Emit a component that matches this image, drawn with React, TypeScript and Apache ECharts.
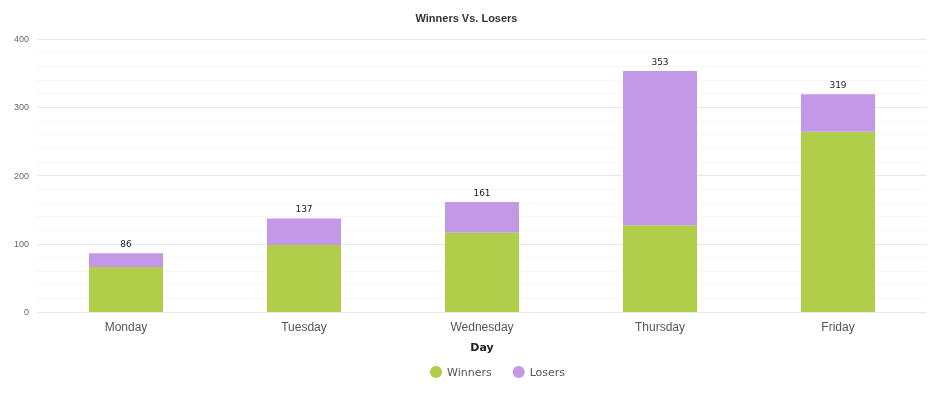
import React, { useEffect, useRef } from "react";
import * as echarts from "echarts";

const days = ["Monday", "Tuesday", "Wednesday", "Thursday", "Friday"];
const winners = [66, 98, 116, 127, 264];
const losers = [20, 39, 45, 226, 55];
const totals = [86, 137, 161, 353, 319];

export default function App() {
  const ref = useRef<HTMLDivElement>(null);
  useEffect(() => {
    if (!ref.current) return;
    const chart = echarts.init(ref.current, undefined, { renderer: "svg" });
    chart.setOption({
      animation: false,
      title: {
        text: "Winners Vs. Losers",
        left: "center",
        top: 7,
        textStyle: { fontSize: 11, fontWeight: "bold", color: "#333", fontFamily: "Liberation Sans, Arial, sans-serif" },
      },
      legend: {
        left: 425,
        top: 361,
        icon: "circle",
        itemWidth: 12,
        itemHeight: 12,
        itemGap: 21,
        textStyle: { fontSize: 11, color: "#555", fontFamily: "DejaVu Sans, sans-serif" },
        data: ["Winners", "Losers"],
      },
      grid: { left: 37, right: 6, top: 39, bottom: 85 },
      xAxis: {
        type: "category",
        data: days,
        name: "Day",
        nameLocation: "middle",
        nameGap: 30,
        nameTextStyle: { fontSize: 11, fontWeight: "bold", color: "#222", fontFamily: "DejaVu Sans, sans-serif" },
        axisLine: { show: false },
        axisTick: { show: false },
        axisLabel: { fontSize: 12, color: "#555", margin: 9, fontFamily: "Liberation Sans, Arial, sans-serif" },
      },
      yAxis: {
        type: "value",
        min: 0,
        max: 400,
        interval: 100,
        axisLine: { show: false },
        axisTick: { show: false },
        axisLabel: { fontSize: 9, color: "#666", margin: 8, fontFamily: "Liberation Sans, Arial, sans-serif" },
        splitLine: { lineStyle: { color: "#e8e8e8", width: 1 } },
        minorTick: { show: false, splitNumber: 5 },
        minorSplitLine: { show: true, lineStyle: { color: "#f7f7f7", width: 1 } },
      },
      series: [
        {
          name: "Winners",
          type: "bar",
          stack: "total",
          data: winners,
          barWidth: 74,
          itemStyle: { color: "#b1ce4b" },
        },
        {
          name: "Losers",
          type: "bar",
          stack: "total",
          data: losers,
          barWidth: 74,
          itemStyle: { color: "#c398e6" },
          label: {
            show: true,
            position: "top",
            distance: 5,
            fontSize: 9,
            color: "#222",
            fontFamily: "DejaVu Sans, sans-serif",
            formatter: (p: any) => String(totals[p.dataIndex]),
          },
        },
      ],
    });
    return () => chart.dispose();
  }, []);
  return <div ref={ref} style={{ position: "fixed", left: 0, top: 0, width: 933, height: 397 }} />;
}
